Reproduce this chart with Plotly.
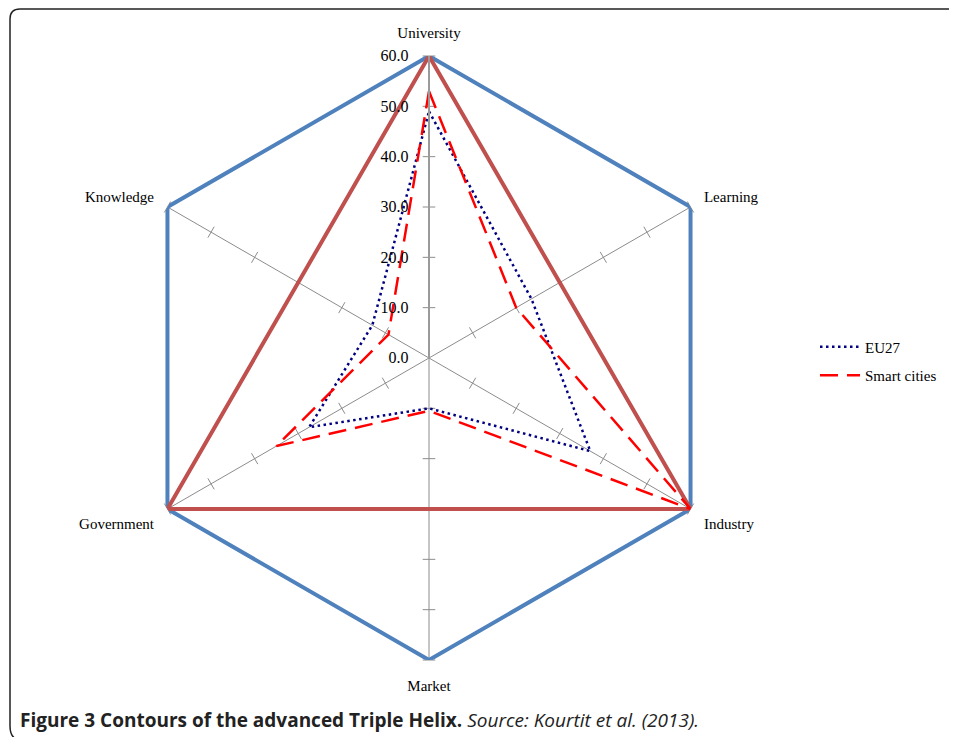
import plotly.graph_objects as go

categories = ["University", "Learning", "Industry", "Market", "Government", "Knowledge"]
outer_values = [60, 60, 60, 60, 60, 60]
helix_values = [60, 30, 60, 30, 60, 30]
eu27_values = [49, 23.5, 37, 10, 27.5, 13]
smart_values = [53, 20, 60, 10.5, 35, 9.3]
tick_values = [10, 20, 30, 40, 50, 60]


def closed(vals):
    return list(vals) + [vals[0]]


theta_closed = closed(categories)

fig = go.Figure()

# tick marks across every spoke
tick_r, tick_t, tick_a = [], [], []
for i, c in enumerate(categories):
    for v in tick_values:
        tick_r.append(v)
        tick_t.append(c)
        tick_a.append(i * 60)
fig.add_trace(go.Scatterpolar(
    r=tick_r, theta=tick_t, mode="markers", showlegend=False, hoverinfo="skip",
    marker=dict(symbol="line-ew", size=9, angle=tick_a,
                line=dict(color="#8c8c8c", width=1))))

fig.add_trace(go.Scatterpolar(
    r=closed(outer_values), theta=theta_closed, mode="lines", name="Outer contour",
    showlegend=False, line=dict(color="#4F81BD", width=4)))
fig.add_trace(go.Scatterpolar(
    r=closed(helix_values), theta=theta_closed, mode="lines", name="Triple Helix",
    showlegend=False, line=dict(color="#C0504D", width=4)))
fig.add_trace(go.Scatterpolar(
    r=closed(eu27_values), theta=theta_closed, mode="lines", name="EU27", legendgroup="a",
    line=dict(color="#000080", width=2.5, dash="2.5px,3.5px")))
fig.add_trace(go.Scatterpolar(
    r=closed(smart_values), theta=theta_closed, mode="lines", name="Smart cities", legendgroup="b",
    line=dict(color="#FF0000", width=2.5, dash="18px,9px")))

# the page body adds an 8px margin; compensate so the picture lands where intended
OFF = 8
W, H = 957 - OFF, 737 - OFF
cx, cy, R = 429 - OFF, 358 - OFF, 302
serif = "Liberation Serif, Times New Roman, serif"


def px(x):
    return (x - OFF) / W


def py(y):
    return 1 - (y - OFF) / H


fig.update_layout(
    width=W, height=H,
    margin=dict(l=0, r=0, t=0, b=0),
    paper_bgcolor="white",
    polar=dict(
        domain=dict(x=[(cx - R) / W, (cx + R) / W], y=[(H - cy - R) / H, (H - cy + R) / H]),
        bgcolor="white",
        radialaxis=dict(range=[0, 60], dtick=10, tickformat=".1f", showline=True,
                        linecolor="#9a9a9a", linewidth=2, showgrid=False,
                        ticks="outside", ticklen=14, tickcolor="rgba(0,0,0,0)",
                        angle=90, tickangle=90, side="counterclockwise",
                        tickfont=dict(family=serif, size=16, color="black")),
        angularaxis=dict(direction="clockwise", rotation=90, showline=False,
                         ticks="outside", ticklen=12, tickcolor="rgba(0,0,0,0)",
                         showgrid=True, gridcolor="#8c8c8c", gridwidth=1,
                         categoryorder="array", categoryarray=categories,
                         tickfont=dict(family=serif, size=15, color="black")),
    ),
    legend=dict(x=px(815), y=py(361), xanchor="left", yanchor="middle",
                font=dict(family=serif, size=15, color="black"),
                bgcolor="rgba(0,0,0,0)", itemwidth=40, tracegroupgap=6),
)

# frame with rounded corners
xl = px(10)
yt = py(9)
yb = py(736)
rx, ry = 10 / W, 10 / H
path = (f"M 1.02,{yt} L {xl + rx},{yt} Q {xl},{yt} {xl},{yt - ry} "
        f"L {xl},{yb + ry} Q {xl},{yb} {xl + rx * 0.6},{yb - ry * 0.3}")
fig.add_shape(type="path", path=path, xref="paper", yref="paper",
              line=dict(color="#222222", width=1.5), layer="above")

fig.add_annotation(
    x=px(18), y=py(720), xref="paper", yref="paper", xanchor="left", yanchor="middle",
    showarrow=False,
    text="<b>Figure 3 Contours of the advanced Triple Helix.</b> <i>Source: Kourtit et al. (2013).</i>",
    font=dict(family="Open Sans, sans-serif", size=19, color="#222222"))

fig.write_html("out.html")
